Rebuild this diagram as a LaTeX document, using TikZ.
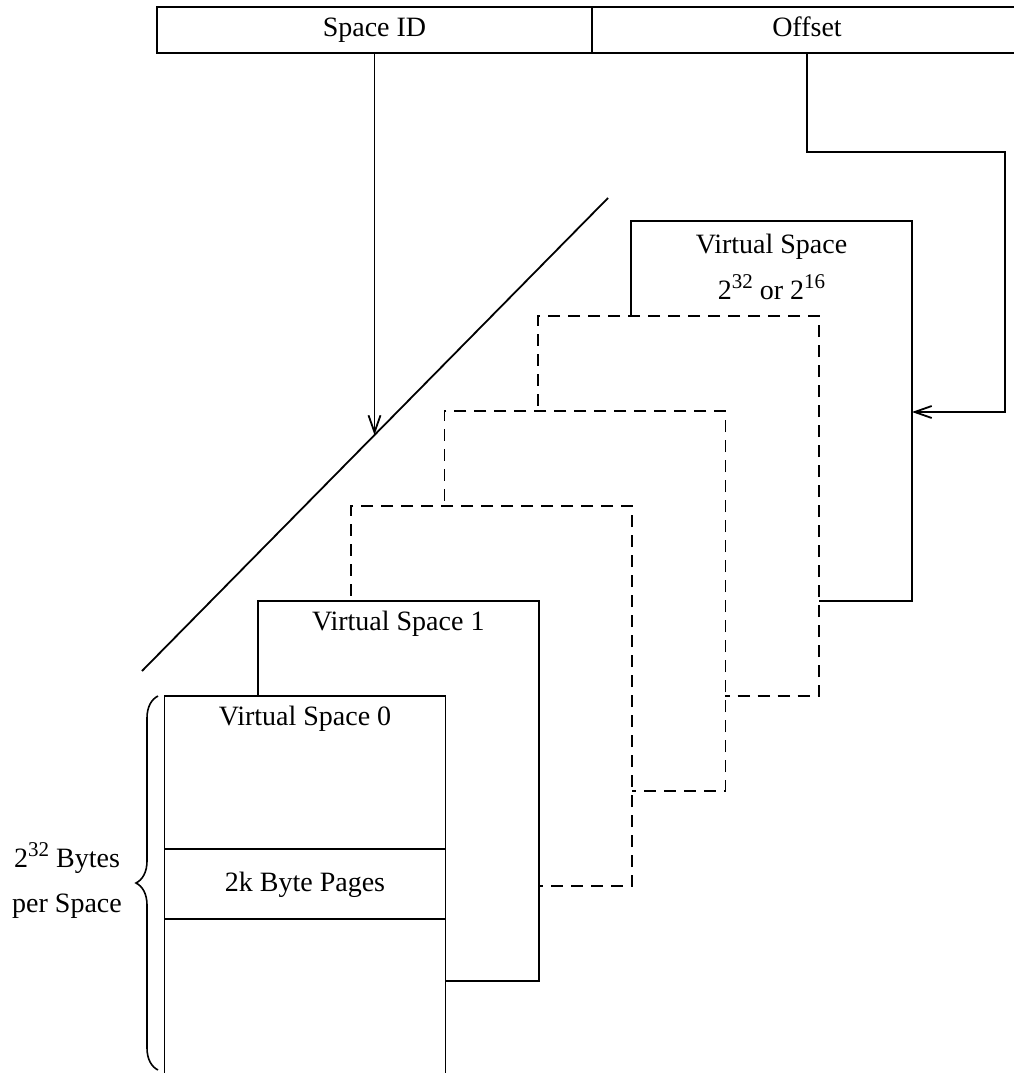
\documentclass[tikz,border=0pt]{standalone}
\usepackage{fontspec}
\setmainfont{Liberation Serif}
\usetikzlibrary{arrows.meta,decorations.pathreplacing}
\newcommand\supnum[1]{\raisebox{10.5pt}{\fontsize{21}{21}\selectfont #1}}
\begin{document}
\begin{tikzpicture}[x=1pt,y=-1pt,
  line width=1.8pt,
  lbl/.style={font=\fontsize{28}{45}\selectfont, inner sep=0pt},
  vbox/.style={draw, fill=white, minimum width=281pt, minimum height=380pt,
               inner sep=0pt, outer sep=0pt, anchor=north west},
  dbox/.style={vbox, dash pattern=on 12pt off 8pt},
  field/.style={draw, lbl, minimum height=46pt, text height=19pt, text depth=6pt,
                inner sep=0pt, outer sep=0pt},
  arr/.style={-{Straight Barb[length=17pt,width=12pt,line width=1.8pt]}}
]
\useasboundingbox (0,0) rectangle (1013,1073);

% address fields
\node[field, minimum width=435pt] (sid) at (374.5,30) {Space ID};
\node[field, minimum width=430pt] (off) at (807,30) {Offset};

% virtual spaces, back to front
\node[vbox] (A) at (631,221) {};
\node[lbl, anchor=base] (tA1) at (771.5,253) {Virtual Space};
\node[lbl, anchor=base] (tA2) at (771.5,299) {2\supnum{32} or 2\supnum{16}};
\node[dbox] (B) at (537.7,316) {};
\node[dbox] (C) at (444.4,411) {};
\node[dbox] (D) at (351.1,506) {};
\node[vbox] (E) at (257.8,601) {};
\node[lbl, anchor=base] (tE) at (398.3,630) {Virtual Space 1};
\node[vbox] (F) at (164.5,696) {};
\node[lbl, anchor=base] (tF) at (305,725) {Virtual Space 0};

% page band
\coordinate (b1) at (0,849);
\coordinate (b2) at (0,919);
\draw (F.west |- b1) -- (F.east |- b1);
\draw (F.west |- b2) -- (F.east |- b2);
\node[lbl, anchor=base] (tP) at (305,891) {2k Byte Pages};

% diagonal
\coordinate (d1) at (142,671);
\coordinate (d2) at (608,198);
\draw (d1) -- (d2);

% connectors
\coordinate (hit) at (374.5,435);
\draw[arr] (sid.south) -- (hit);
\coordinate (oc) at (1005,152);
\coordinate (oe) at (1005,412);
\draw[arr] (off.south) |- (oc) -- (oe) -- (A.east |- oe);

% brace and size label
\draw[decorate, decoration={brace, amplitude=22pt}, line width=1.6pt]
  (158,1070) -- (158,696);
\node[lbl, anchor=base] (s1) at (67,867) {2\supnum{32} Bytes};
\node[lbl, anchor=base] (s2) at (67,912) {per Space};
\end{tikzpicture}
\end{document}
